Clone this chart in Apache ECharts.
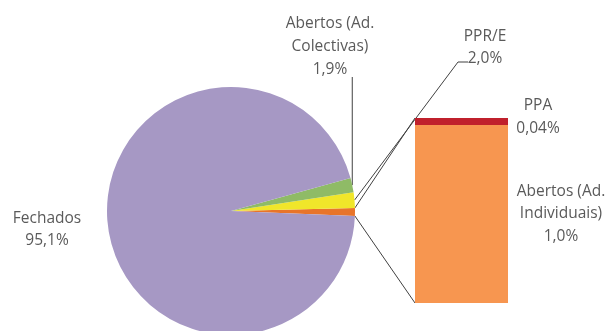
<!DOCTYPE html>
<html>
<head>
<meta charset="utf-8">
<script src="https://cdn.jsdelivr.net/npm/echarts@6/dist/echarts.min.js"></script>
<style>
  html, body { margin: 0; padding: 0; background: #ffffff; }
  #chart { width: 608px; height: 331px; }
</style>
</head>
<body>
<div id="chart"></div>
<script>
// Pie slices; the first one ("Outros") is broken out into the stacked bar
const pieNames = ['Outros', 'PPR/E', 'Abertos (Ad.\nColectivas)', 'Fechados'];
const pieValues = [1.04, 2.0, 1.9, 95.1];
const pieColors = ['#E8742A', '#F0E62A', '#8FBB66', '#A698C4'];

// Breakdown of the "Outros" slice
const barNames = ['Abertos (Ad.\nIndividuais)', 'PPA'];
const barValues = [1.0, 0.04];
const barColors = ['#F79650', '#C0202C'];

const fmt = v => v.toFixed(v < 0.1 ? 2 : 1).replace('.', ',') + '%';

const FONT = 'Open Sans';
const TXT = '#5a5a5a';
const PIE_CX = 231, PIE_CY = 211, PIE_R = 124;
const START = -2.3;

const chart = echarts.init(document.getElementById('chart'), null, { renderer: 'canvas' });

const labelStyle = {
  color: TXT, fontFamily: FONT, fontSize: 15.5, lineHeight: 22.8
};

const pieData = pieNames.map((n, i) => ({
  name: n,
  value: pieValues[i],
  itemStyle: { color: pieColors[i] },
  label: { show: i !== 0 },
  labelLine: { show: i === 1 || i === 2 }
}));

const barTotal = barValues.reduce((a, b) => a + b, 0);

chart.setOption({
  animation: false,
  grid: { left: 415, top: 118, width: 93, height: 185 },
  xAxis: { type: 'category', data: ['Outros'], show: false },
  yAxis: { type: 'value', min: 0, max: barTotal, show: false },
  series: [
    {
      type: 'pie',
      center: [PIE_CX, PIE_CY],
      radius: PIE_R,
      startAngle: START,
      clockwise: false,
      avoidLabelOverlap: false,
      emphasis: { disabled: true },
      itemStyle: { borderWidth: 0 },
      label: Object.assign({
        position: 'outside',
        formatter: p => p.name + '\n' + fmt(p.value)
      }, labelStyle),
      labelLine: { lineStyle: { color: '#404040', width: 1 } },
      labelLayout: function (p) {
        const pts = p.labelLinePoints;
        if (p.dataIndex === 3) {
          return { x: 47, y: 229.5, align: 'center', verticalAlign: 'middle' };
        }
        if (p.dataIndex === 2) {
          const s = pts[0];
          return {
            x: 330, y: 46.5, align: 'center', verticalAlign: 'middle',
            labelLinePoints: [s, [s[0], 77], [s[0], 77]]
          };
        }
        if (p.dataIndex === 1) {
          const s = pts[0];
          return {
            x: 485, y: 47.5, align: 'center', verticalAlign: 'middle',
            labelLinePoints: [s, [458, 62], [468, 62]]
          };
        }
      },
      data: pieData
    },
    {
      type: 'bar',
      stack: 'outros',
      barWidth: '100%',
      name: barNames[0],
      itemStyle: { color: barColors[0] },
      emphasis: { disabled: true },
      label: Object.assign({
        show: true,
        formatter: () => barNames[0] + '\n' + fmt(barValues[0])
      }, labelStyle),
      labelLayout: p => ({
        x: p.rect.x + p.rect.width + 53,
        y: p.rect.y + p.rect.height / 2,
        align: 'center', verticalAlign: 'middle'
      }),
      data: [barValues[0]]
    },
    {
      type: 'bar',
      stack: 'outros',
      barWidth: '100%',
      name: barNames[1],
      itemStyle: { color: barColors[1] },
      emphasis: { disabled: true },
      label: Object.assign({
        show: true,
        formatter: () => barNames[1] + '\n' + fmt(barValues[1])
      }, labelStyle),
      labelLayout: p => ({
        x: p.rect.x + p.rect.width + 30,
        y: p.rect.y + p.rect.height / 2 - 4.5,
        align: 'center', verticalAlign: 'middle'
      }),
      data: [barValues[1]]
    }
  ]
});

// Connector lines from the "Outros" slice edges to the bar corners
const pieTotal = pieValues.reduce((a, b) => a + b, 0);
const a0 = START * Math.PI / 180;
const a1 = (START + pieValues[0] / pieTotal * 360) * Math.PI / 180;
const edge = a => [PIE_CX + PIE_R * Math.cos(a), PIE_CY - PIE_R * Math.sin(a)];
const gridRect = chart.getModel().getComponent('grid').coordinateSystem.getRect();
const barLeft = gridRect.x;
const yTop = chart.convertToPixel({ yAxisIndex: 0 }, barTotal);
const yBot = chart.convertToPixel({ yAxisIndex: 0 }, 0);
const pTop = edge(a1), pBot = edge(a0);

chart.setOption({
  graphic: [
    { type: 'line', shape: { x1: pTop[0], y1: pTop[1], x2: barLeft, y2: yTop },
      style: { stroke: '#404040', lineWidth: 1 }, silent: true },
    { type: 'line', shape: { x1: pBot[0], y1: pBot[1], x2: barLeft, y2: yBot },
      style: { stroke: '#404040', lineWidth: 1 }, silent: true }
  ]
});
</script>
</body>
</html>
